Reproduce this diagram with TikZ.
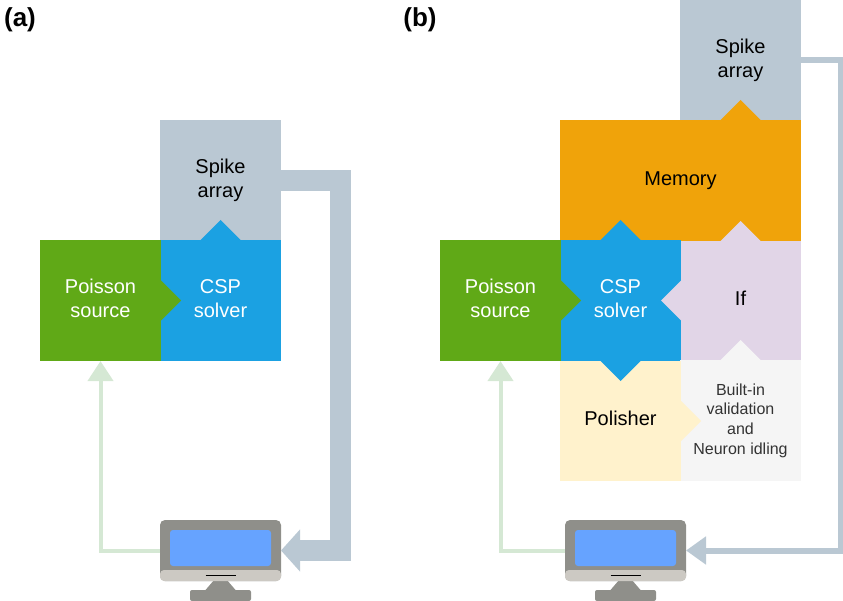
\documentclass[tikz,border=0pt]{standalone}
\usepackage{fontspec}
\setmainfont{Liberation Sans}
\usetikzlibrary{positioning,arrows.meta}
\definecolor{poissoncol}{HTML}{60A917}
\definecolor{cspcol}{HTML}{1BA1E2}
\definecolor{spikecol}{HTML}{BAC8D3}
\definecolor{memorycol}{HTML}{F0A30A}
\definecolor{ifcol}{HTML}{E1D5E7}
\definecolor{polishcol}{HTML}{FFF2CC}
\definecolor{builtcol}{HTML}{F5F5F5}
\definecolor{greenline}{HTML}{D5E8D4}
\definecolor{monbody}{HTML}{8F8F8A}
\definecolor{monscreen}{HTML}{66A3FF}
\definecolor{monbezel}{HTML}{CCC9C3}
\tikzset{
	block/.style={inner sep=0pt,outer sep=0pt,align=center,minimum width=121pt,minimum height=120pt,font=\fontsize{20}{24}\selectfont},
	whiteblock/.style={block,text=white,minimum height=121pt,text depth=4pt},
	monitor/.pic={
		\fill[monbody] (-6,29) -- (6,29) -- (15,39.5) -- (-15,39.5) -- cycle;
		\fill[monbody,rounded corners=2pt] (-30.5,39.5) rectangle (30.5,50.5);
		\node [fill=monbody,rounded corners=5pt,minimum width=121pt,minimum height=61pt,inner sep=0pt,outer sep=0pt] (-body) at (0,0) {};
		\fill[monscreen,rounded corners=3pt] (-50.5,-20.5) rectangle (50.5,15.5);
		\fill[monbezel,rounded corners=4pt] (-60.5,19.5) rectangle (60.5,30.5);
		\draw[black,line width=1pt] (-15,25) -- (15,25);
	}
}

\begin{document}
\begin{tikzpicture}[x=1pt,y=-1pt]
	\useasboundingbox (0,0) rectangle (843,601);

	% panel a
	\node [font=\bfseries\fontsize{26}{30}\selectfont] (labela) at (20,20) {(a)};
	\node [whiteblock,fill=cspcol] (cspa) at (220.5,300.5) {CSP\\solver};
	\node [whiteblock,fill=poissoncol] (poissona) at (100.5,300.5) {Poisson\\source};
	\node [block,fill=spikecol,text depth=4pt,above=0pt of cspa] (spikea) {Spike\\array};
	\fill[cspcol] (cspa.north) ++(-20,0) -- ++(20,-20) -- ++(20,20) -- cycle;
	\fill[poissoncol] (poissona.east) ++(0,-20) -- ++(20,20) -- ++(-20,20) -- cycle;
	\pic (moa) at (220.5,550.5) {monitor};
	\coordinate (turna) at (340.5,550.5);
	\draw[spikecol,line width=21pt,-{Triangle[length=19pt,width=41pt]}] ([yshift=-.5pt]spikea.east) -| (turna) -- (moa-body.east);
	\draw[greenline,line width=4pt,-{Triangle[length=20pt,width=25pt]}] (moa-body.west) -| (poissona.south);

	% panel b
	\node [font=\bfseries\fontsize{26}{30}\selectfont] (labelb) at (420,20) {(b)};
	\node [block,fill=memorycol,minimum width=241pt,minimum height=121pt] (memory) at (680.5,180.5) {Memory};
	\node [block,fill=ifcol,minimum height=119pt,text depth=4pt] (iff) at (740.5,300.5) {If};
	\node [whiteblock,fill=cspcol] (cspb) at (620.5,300.5) {CSP\\solver};
	\node [whiteblock,fill=poissoncol] (poissonb) at (500.5,300.5) {Poisson\\source};
	\node [block,fill=spikecol,text depth=4pt,anchor=south east] (spikeb) at (memory.north east) {Spike\\array};
	\node [block,fill=builtcol,minimum height=121pt,text=black!80,font=\fontsize{16}{19.6}\selectfont] (builtin) at (740.5,420.5) {Built-in\\validation\\and\\Neuron idling};
	\node [block,fill=polishcol,text depth=6pt,below=0pt of cspb] (polisher) {Polisher};
	\fill[memorycol] (spikeb.south) ++(-20,0) -- ++(20,-20) -- ++(20,20) -- cycle;
	\fill[cspcol] (cspb.north) ++(-20,0) -- ++(20,-20) -- ++(20,20) -- cycle;
	\fill[ifcol] (iff.north) ++(-20,0) -- ++(20,-20) -- ++(20,20) -- cycle;
	\fill[poissoncol] (poissonb.east) ++(0,-20) -- ++(20,20) -- ++(-20,20) -- cycle;
	\fill[ifcol] (cspb.east) ++(0,-20) -- ++(-20,20) -- ++(20,20) -- cycle;
	\fill[builtcol] (builtin.north) ++(-20,0) -- ++(20,-20) -- ++(20,20) -- cycle;
	\fill[cspcol] (cspb.south) ++(-20,0) -- ++(20,20) -- ++(20,-20) -- cycle;
	\fill[polishcol] (polisher.east) ++(0,-20) -- ++(20,20) -- ++(-20,20) -- cycle;
	\pic (mob) at (625.5,550.5) {monitor};
	\coordinate (turnb) at (841,550.5);
	\draw[spikecol,line width=6pt,-{Triangle[length=20pt,width=27pt]}] (spikeb.east) -| (turnb) -- (mob-body.east);
	\draw[greenline,line width=4pt,-{Triangle[length=20pt,width=25pt]}] (mob-body.west) -| (poissonb.south);
\end{tikzpicture}
\end{document}
